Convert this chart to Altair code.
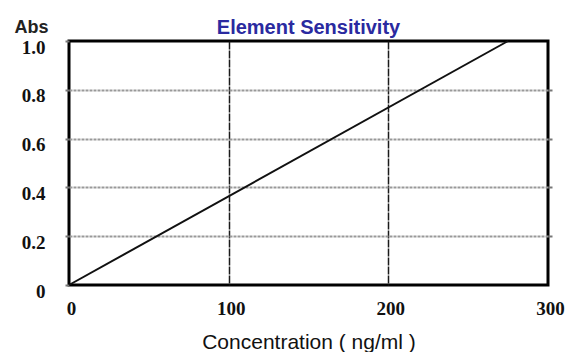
import altair as alt
import pandas as pd

# Calibration line: absorbance vs. concentration
concentration = [0, 275]
absorbance = [0.0, 1.0]

x_ticks = [0, 100, 200, 300]
y_ticks = [0, 0.2, 0.4, 0.6, 0.8, 1.0]

df = pd.DataFrame({"conc": concentration, "abs": absorbance})

label_font = "Liberation Serif"
text_font = "Liberation Sans"

# Hide grid lines that would sit on the plot frame
x_grid_opacity = {"condition": {"test": "datum.value == 0 || datum.value == 300", "value": 0}, "value": 1}
y_grid_opacity = {"condition": {"test": "datum.value == 0 || datum.value == 1", "value": 0}, "value": 1}

x_enc = alt.X(
    "conc:Q",
    scale=alt.Scale(domain=[0, 300], nice=False, zero=True),
    axis=alt.Axis(
        values=x_ticks,
        title="Concentration ( ng/ml )",
        titleFont=text_font,
        titleFontSize=21,
        titleFontWeight="normal",
        titleColor="#111111",
        titleY=57,
        titleBaseline="middle",
        labelFont=label_font,
        labelFontSize=19,
        labelFontWeight="bold",
        labelColor="#111111",
        labelPadding=23,
        labelBaseline="middle",
        labelFlush=False,
        labelOffset=2,
        domain=False,
        ticks=False,
        grid=True,
        gridColor="#1a1a1a",
        gridWidth=1.5,
        gridDash=[8, 1],
        gridOpacity=x_grid_opacity,
        labelExpr="datum.value == 0 ? '0' : datum.label",
    ),
)

line = (
    alt.Chart(df)
    .mark_line(color="#111111", strokeWidth=2)
    .encode(
        x=x_enc,
        y=alt.Y(
            "abs:Q",
            scale=alt.Scale(domain=[0, 1.0], nice=False),
            axis=alt.Axis(
                values=y_ticks,
                format=".1f",
                labelExpr="datum.value == 0 ? '0' : format(datum.value, '.1f')",
                title="Abs",
                titleAngle=0,
                titleX=-55,
                titleY=-14,
                titleAlign="left",
                titleBaseline="middle",
                titleFont=text_font,
                titleFontSize=18,
                titleFontWeight="bold",
                titleColor="#222222",
                labelFont=label_font,
                labelFontSize=19,
                labelFontWeight="bold",
                labelColor="#111111",
                labelPadding=20,
                labelOffset=6,
                labelBaseline="middle",
                domain=False,
                ticks=True,
                tickSize=4,
                tickColor="#777777",
                tickWidth=2,
                grid=True,
                gridColor="#999999",
                gridWidth=2,
                gridDash=[3, 1],
                gridOpacity=y_grid_opacity,
            ),
        ),
    )
)

# Right-hand tick stubs continuing the horizontal grid outside the frame
right_ticks = (
    alt.Chart(df)
    .mark_line(opacity=0)
    .encode(
        x=alt.X("conc:Q", scale=alt.Scale(domain=[0, 300], nice=False)),
        y=alt.Y(
            "abs:Q",
            scale=alt.Scale(domain=[0, 1.0], nice=False),
            axis=alt.Axis(
                orient="right",
                values=[0.2, 0.4, 0.6, 0.8],
                labels=False,
                title=None,
                domain=False,
                ticks=True,
                tickSize=4,
                tickColor="#777777",
                tickWidth=2,
                grid=False,
            ),
        ),
    )
)

chart = (
    alt.layer(line, right_ticks)
    .resolve_axis(y="independent")
    .properties(
        width=479,
        height=244,
        background="white",
        title=alt.TitleParams(
            "Element Sensitivity",
            font=text_font,
            fontSize=20,
            fontWeight="bold",
            color="#2a2aa0",
            anchor="middle",
            frame="group",
            orient="top",
            offset=0,
            dy=20,
        ),
        autosize=alt.AutoSizeParams(type="none"),
        padding={"left": 69, "top": 41, "right": 17, "bottom": 67},
    )
    .configure_view(stroke="#000000", strokeWidth=3)
)

chart.save("out.html", embed_options={"renderer": "svg", "actions": False})
